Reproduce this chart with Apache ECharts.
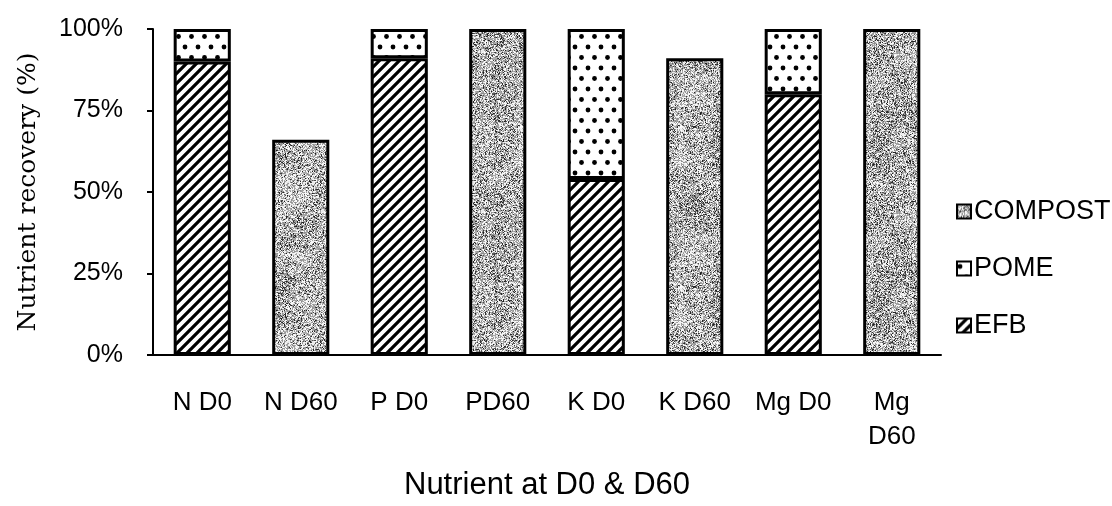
<!DOCTYPE html>
<html>
<head>
<meta charset="utf-8">
<script src="https://cdn.jsdelivr.net/npm/echarts@6/dist/echarts.min.js"></script>
<style>
  html, body { margin: 0; padding: 0; background: #ffffff; }
  #chart { width: 1112px; height: 506px; }
</style>
</head>
<body>
<div id="chart"></div>
<script>
// Categories (nutrient and sampling day)
const categories = ['N D0', 'N D60', 'P D0', 'PD60', 'K D0', 'K D60', 'Mg D0', 'Mg\nD60'];

// Nutrient recovery shares (%) per source
const efbValues     = [90, null, 91, null, 54, null, 80, null];
const pomeValues    = [10, null, 9,  null, 46, null, 20, null];
const compostValues = [null, 66, null, 100, null, 91, null, 100];

// Y axis ticks
const yTicks = [0, 25, 50, 75, 100];

// Legend order (top to bottom)
const legendOrder = ['COMPOST', 'POME', 'EFB'];

// ---------- fill patterns ----------
function makeCanvas(w, h) {
  const c = document.createElement('canvas');
  c.width = w; c.height = h;
  return c;
}

// diagonal "/" hatching
function hatchPattern() {
  const s = 10;
  const c = makeCanvas(s, s);
  const g = c.getContext('2d');
  g.fillStyle = '#ffffff';
  g.fillRect(0, 0, s, s);
  g.strokeStyle = '#000000';
  g.lineWidth = 3.2;
  g.lineCap = 'square';
  [[-s, 0], [0, 0], [s, 0]].forEach(function (o) {
    g.beginPath();
    g.moveTo(o[0], s + o[1]);
    g.lineTo(o[0] + s, o[1]);
    g.stroke();
  });
  return c;
}

// staggered dots
function dotPattern() {
  const w = 13, h = 21;
  const c = makeCanvas(w, h);
  const g = c.getContext('2d');
  g.fillStyle = '#ffffff';
  g.fillRect(0, 0, w, h);
  g.fillStyle = '#000000';
  [[3, 5], [9.5, 15.5]].forEach(function (p) {
    g.beginPath();
    g.arc(p[0], p[1], 2.4, 0, Math.PI * 2);
    g.fill();
  });
  return c;
}

// speckled grey texture built from a deterministic integer hash
function hash2(x, y, seed) {
  let h = Math.imul(x, 374761393) + Math.imul(y, 668265263) + Math.imul(seed, 2246822519);
  h = Math.imul(h ^ (h >>> 13), 1274126177);
  h = h ^ (h >>> 16);
  return (h >>> 0) / 4294967295;
}
function grainPattern() {
  const s = 160;
  const cell = 20;
  const n = s / cell;
  const c = makeCanvas(s, s);
  const g = c.getContext('2d');
  const img = g.createImageData(s, s);
  // smooth value noise over a wrapping cell grid for soft darker patches
  function blotAt(x, y) {
    const fx = x / cell, fy = y / cell;
    const x0 = Math.floor(fx), y0 = Math.floor(fy);
    const tx = fx - x0, ty = fy - y0;
    const sx = tx * tx * (3 - 2 * tx), sy = ty * ty * (3 - 2 * ty);
    const a = hash2(x0 % n, y0 % n, 7), b = hash2((x0 + 1) % n, y0 % n, 7);
    const cc = hash2(x0 % n, (y0 + 1) % n, 7), d = hash2((x0 + 1) % n, (y0 + 1) % n, 7);
    return (a * (1 - sx) + b * sx) * (1 - sy) + (cc * (1 - sx) + d * sx) * sy;
  }
  for (let y = 0; y < s; y++) {
    for (let x = 0; x < s; x++) {
      const blot = blotAt(x, y);
      const r = hash2(x, y, 3);
      const darkP = 0.06 + blot * 0.22;
      const greyP = 0.45;
      let v;
      if (r < darkP) v = 25 + hash2(x, y, 11) * 70;
      else if (r < darkP + greyP) v = 140 + hash2(x, y, 13) * 40;
      else v = 228 + hash2(x, y, 17) * 27;
      const i = (y * s + x) * 4;
      img.data[i] = img.data[i + 1] = img.data[i + 2] = v;
      img.data[i + 3] = 255;
    }
  }
  g.putImageData(img, 0, 0);
  return c;
}

const fills = {
  EFB: { image: hatchPattern(), repeat: 'repeat' },
  POME: { image: dotPattern(), repeat: 'repeat' },
  COMPOST: { image: grainPattern(), repeat: 'repeat' }
};

const sansFont = '"Liberation Sans", Arial, sans-serif';
const serifFont = '"DejaVu Serif", "Liberation Serif", serif';

function barSeries(name, values) {
  return {
    name: name,
    type: 'bar',
    stack: 'total',
    barWidth: '58%',
    clip: false,
    data: values,
    itemStyle: {
      color: fills[name],
      borderColor: '#000000',
      borderWidth: 3
    },
    emphasis: { disabled: true }
  };
}

const chart = echarts.init(document.getElementById('chart'), null, { renderer: 'canvas' });

chart.setOption({
  backgroundColor: '#ffffff',
  animation: false,
  grid: { left: 153, right: 171, top: 29, bottom: 136, containLabel: false },
  legend: {
    orient: 'vertical',
    left: 951,
    top: 193,
    itemWidth: 14,
    itemHeight: 14,
    itemGap: 30,
    icon: 'rect',
    selectedMode: false,
    textStyle: { fontFamily: sansFont, fontSize: 27, color: '#000000', padding: [0, 0, 0, -2] },
    data: legendOrder.map(function (n) {
      return {
        name: n,
        itemStyle: { color: fills[n], borderColor: '#000000', borderWidth: 2 }
      };
    })
  },
  xAxis: {
    type: 'category',
    data: categories,
    name: 'Nutrient at D0 & D60',
    nameLocation: 'middle',
    nameGap: 115,
    nameTextStyle: { fontFamily: sansFont, fontSize: 31, color: '#000000' },
    axisLine: { show: true, lineStyle: { color: '#000000', width: 2 } },
    axisTick: { show: false },
    axisLabel: {
      interval: 0,
      margin: 31,
      fontFamily: sansFont,
      fontSize: 26,
      lineHeight: 34,
      color: '#000000'
    },
    splitLine: { show: false }
  },
  yAxis: {
    type: 'value',
    min: yTicks[0],
    max: yTicks[yTicks.length - 1],
    interval: yTicks[1] - yTicks[0],
    name: 'Nutrient recovery (%)',
    nameLocation: 'middle',
    nameGap: 112,
    nameTextStyle: { fontFamily: serifFont, fontSize: 25, color: '#000000' },
    axisLine: { show: true, lineStyle: { color: '#000000', width: 2 } },
    axisTick: { show: true, inside: false, length: 6, lineStyle: { color: '#000000', width: 2 } },
    axisLabel: {
      margin: 30,
      fontFamily: sansFont,
      fontSize: 25,
      color: '#000000',
      formatter: '{value}%'
    },
    splitLine: { show: false }
  },
  series: [
    barSeries('EFB', efbValues),
    barSeries('POME', pomeValues),
    barSeries('COMPOST', compostValues)
  ]
});
</script>
</body>
</html>
